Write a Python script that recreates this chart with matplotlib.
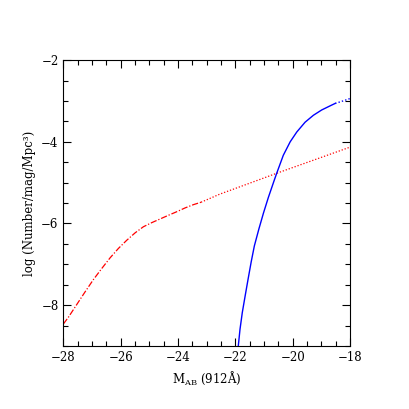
import numpy as np
import matplotlib
matplotlib.use('Agg')
import matplotlib.pyplot as plt
from matplotlib.ticker import MultipleLocator

# quasar LF (dash-dot part, then dotted part)
qso_mag = [-28.0, -27.83, -27.53, -27.24, -26.95, -26.66, -26.37, -26.08, -25.79,
           -25.50, -25.21, -24.92, -24.63, -24.34, -24.04, -23.76, -23.47, -23.2]
qso_logphi = [-8.46, -8.30, -7.98, -7.67, -7.37, -7.10, -6.84, -6.61, -6.41,
              -6.23, -6.08, -5.98, -5.89, -5.80, -5.71, -5.62, -5.54, -5.48]
qso_mag_faint = [-23.2, -22.54, -21.49, -20.56, -18.0]
qso_logphi_faint = [-5.48, -5.28, -5.01, -4.77, -4.13]

# galaxy LF (solid, then dotted near the end)
gal_mag = [-21.90, -21.84, -21.76, -21.66, -21.56, -21.45, -21.34, -21.18, -21.02,
           -20.85, -20.65, -20.56, -20.33, -20.09, -19.86, -19.57, -19.28, -18.99,
           -18.64, -18.52]
gal_logphi = [-9.0, -8.59, -8.18, -7.77, -7.37, -6.94, -6.55, -6.13, -5.74,
              -5.36, -4.95, -4.77, -4.33, -4.00, -3.76, -3.52, -3.35, -3.22,
              -3.10, -3.06]
gal_mag_faint = [-18.52, -18.25, -18.0]
gal_logphi_faint = [-3.06, -3.00, -2.94]

plt.rcParams['font.family'] = 'DejaVu Serif'
plt.rcParams['mathtext.fontset'] = 'dejavuserif'

fig = plt.figure(figsize=(4.09, 4.09), dpi=100)
ax = fig.add_axes([0.155, 0.154, 0.701, 0.699])

ax.plot(qso_mag, qso_logphi, color='red', lw=0.9, dashes=(5, 1.5, 1, 1.5))
ax.plot(qso_mag_faint, qso_logphi_faint, color='red', lw=0.9, ls=(0, (1, 1.5)))
ax.plot(gal_mag, gal_logphi, color='blue', lw=1.0)
ax.plot(gal_mag_faint, gal_logphi_faint, color='blue', lw=1.0, ls=(0, (1, 1.5)))

ax.set_xlim(-28, -18)
ax.set_ylim(-9, -2)
ax.xaxis.set_major_locator(MultipleLocator(2))
ax.xaxis.set_minor_locator(MultipleLocator(0.5))
ax.yaxis.set_major_locator(MultipleLocator(2))
ax.yaxis.set_minor_locator(MultipleLocator(0.5))
ax.tick_params(which='both', direction='in', top=True, right=True, labelsize=8.5)
ax.tick_params(which='major', length=6, width=0.8)
ax.tick_params(which='minor', length=3.5, width=0.8)
for s in ax.spines.values():
    s.set_linewidth(0.8)

ax.set_xlabel(r'M$_{\rm AB}$ (912Å)', fontsize=8.5, labelpad=4)
ax.set_ylabel('log (Number/mag/Mpc³)', fontsize=8.5, labelpad=4)

fig.savefig('out.png', dpi=100)
